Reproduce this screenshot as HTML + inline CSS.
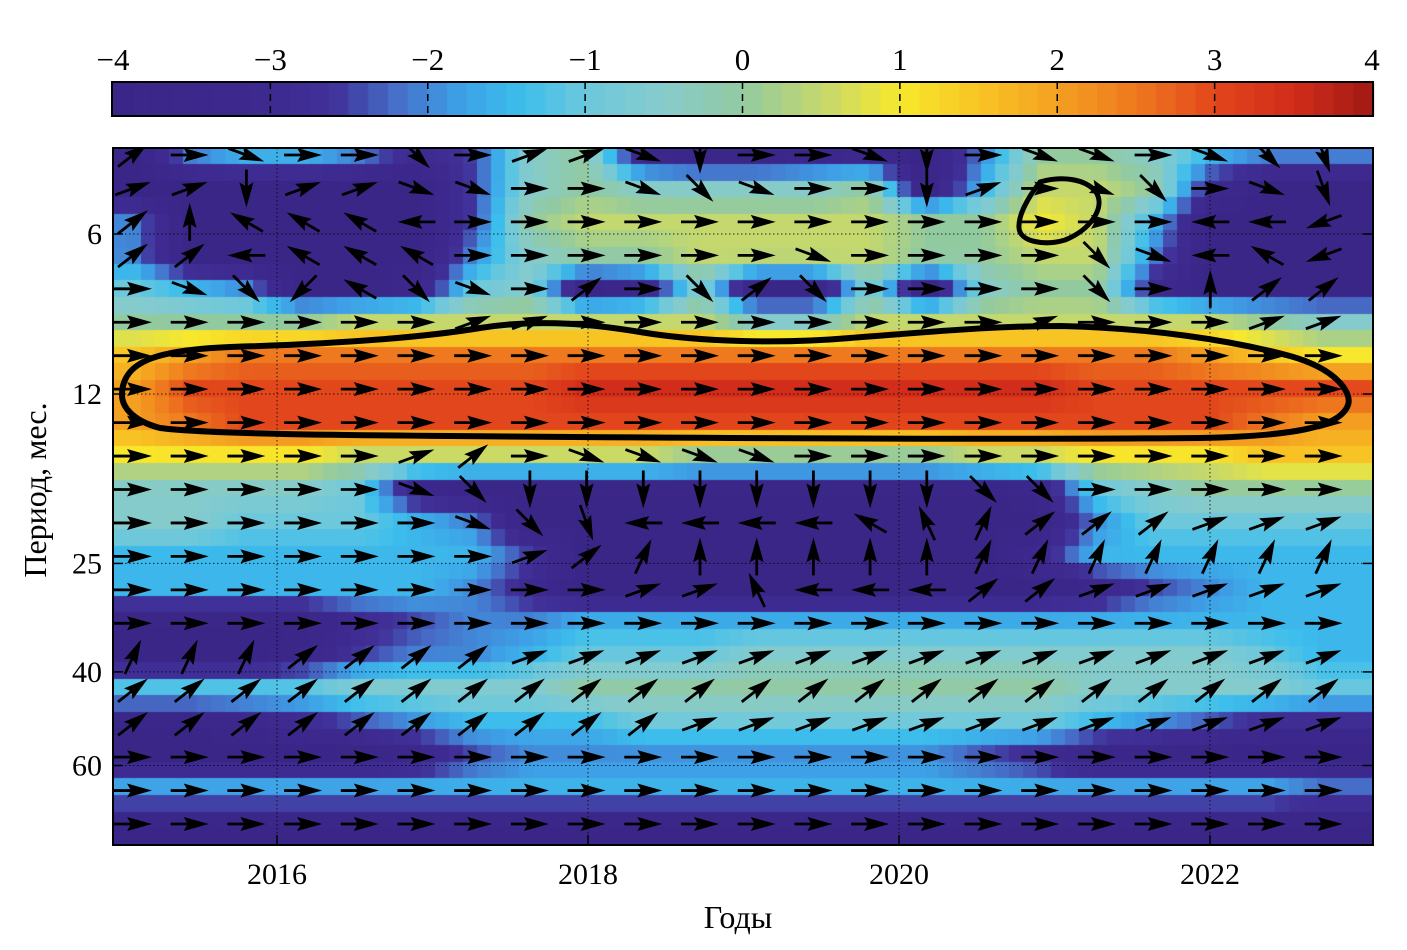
<!DOCTYPE html>
<html><head><meta charset="utf-8">
<style>
body{margin:0;background:#fff;width:1407px;height:950px;overflow:hidden;font-family:"Liberation Serif",serif;}
#wrap{position:relative;width:1407px;height:950px;}
canvas{position:absolute;left:0;top:0;}
svg{position:absolute;left:0;top:0;}
</style></head>
<body>
<div id="wrap">
<canvas id="cv" width="1407" height="950"></canvas>
<svg id="sv" width="1407" height="950"></svg>
</div>
<script>
// ---- data ----
const years = [2016, 2018, 2020, 2022];
const periodTicks = [6, 12, 25, 40, 60];
const cbTicks = ['−4','−3','−2','−1','0','1','2','3','4'];
const levelChars = 'abcdefghijklmnopq'; // a=-4 ... q=4 step 0.5
const heatRows = [
'aeffecdhibaabbaeiihfee',
'aaaaaadhihhhhiafjjicaa',
'eaaaaadijjjjjjiikjfaaa',
'eaaaaaehiijjjjiijjeaaa',
'gfeaabghabhaahahiicaaa',
'iiiijjjjjjjhhjjjjjjjih',
'lmnnnnnnnnnnnnnnnnnmlk',
'mooooooopppppppppooooon',
'mnoooooooooooooooooonm',
'kkkkjjjjjjiiiiijjkkkll',
'hhhhgbaaaaaaaaaabghiii',
'hhgggfeaaaaaaaaaaegggg',
'fffffffdaaaaaaaacfffff',
'ffffffecaaaaaaaaabdeff',
'aaaacdeeffffffffffffff',
'aaabdeefggghhhhhhhhhgf',
'gggghhhhiiiiiiiiihhhhg',
'aabcdefffggggggggfedcc',
'aaaaabdeeeeeeeedcaaaaa',
'fffffffffffffffffffffe',
'aaaaaaaaaaaaaaaaaaaaaa'
];
const arrowRows = [
'ErfrrFreefdrrfdrffrfFs',
'eedeeffrrfFfrrderfFrfs',
'Euwwwlrrrrrrrrrrrrrllx',
'EElwwwrrrrrrfrrrrFflwx',
'rfFXwFfrErFEFrrrrFruEE',
'rrrrrreerrrrrrrrerrree',
'rrrrrrrrrrrrrrrrrrrrrr',
'rrrrrrrrrrrrrrrrrrrrrr',
'rrrrrrrrrrrrrrrrrrrrrr',
'rrrrreErffffrrrrrrrrrr',
'rrrrrfFddddddddFFrrrrr',
'rrrrrrfFsllllwWNEEEeee',
'rrrrrrreENuuuuuNNNNNNN',
'rrrrrrrrreeWlllEEeeeee',
'rrrrrrrrrrrrrrrrrrrrrr',
'NNNEEEEeeeeeeeeeeeeeee',
'EEEEEEEEEEEEEEEEEEEEEE',
'EEEEEEEEEEeeeeeeeeeeee',
'rrrrrrrrrrrrrrrrrrrrrr',
'rrrrrrrrrrrrrrrrrrrrrr',
'rrrrrrrrrrrrrrrrrrrrrr'
];
const dirAngles = {r:0,e:20,E:38,N:65,u:90,W:115,w:150,l:180,x:200,X:225,S:250,d:270,s:290,F:315,f:340};

// ---- geometry ----
const PL=113, PR=1373, PT=148, PB=845;
const x0Year=2016, x0Px=277, pxPerYear=155.5;
const xYear = y => x0Px + (y - x0Year) * pxPerYear;
const yPer = p => 394 + Math.log2(p / 12) * 160;
const colX = i => 133 + i * 56.7;
const rowY = j => 155 + j * 33.45;
const NC = 22, NR = 21;
const val = (j,i) => { const s = heatRows[j]; return -4 + levelChars.indexOf(s[Math.min(i,s.length-1)]) * 0.5; };

const stops = [[-4,[58,38,135]],[-3,[62,42,144]],[-2.6,[64,48,152]],[-2.2,[70,110,200]],[-1.8,[62,160,230]],[-1.4,[60,190,236]],[-1,[108,200,220]],[-0.5,[134,203,204]],[0,[146,202,160]],[0.5,[196,216,110]],[1,[248,232,44]],[1.5,[248,196,36]],[2,[244,160,33]],[2.5,[238,120,30]],[3,[226,70,28]],[3.5,[210,44,26]],[4,[160,26,20]]];
function cmap(v){
  v=Math.max(-4,Math.min(4,v));
  for(let k=0;k<stops.length-1;k++){const [a,ca]=stops[k],[b,cb]=stops[k+1];
    if(v<=b){const t=(v-a)/(b-a);return 'rgb('+ca.map((c,i)=>Math.round(c+(cb[i]-c)*t)).join(',')+')';}}
  return 'rgb(160,26,20)';
}
function interp(x,y){
  let fi=(x-133)/56.7, fj=(y-155)/33.45;
  fi=Math.max(0,Math.min(NC-1,fi)); fj=Math.max(0,Math.min(NR-1,fj));
  const i0=Math.min(NC-2,Math.floor(fi)), j0=Math.min(NR-2,Math.floor(fj));
  const tx=fi-i0, ty=fj-j0;
  return val(j0,i0)*(1-tx)*(1-ty)+val(j0,i0+1)*tx*(1-ty)+val(j0+1,i0)*(1-tx)*ty+val(j0+1,i0+1)*tx*ty;
}
const cv=document.getElementById('cv'), ctx=cv.getContext('2d');
const cw=14, ch=16.6;
for(let y=PT;y<PB;y+=ch){for(let x=PL;x<PR;x+=cw){
  ctx.fillStyle=cmap(interp(x+cw/2,y+ch/2));
  ctx.fillRect(Math.floor(x),Math.floor(y),Math.min(Math.ceil(cw)+1,PR-Math.floor(x)),Math.min(Math.ceil(ch)+1,PB-Math.floor(y)));}}
// colorbar
const CBL=112, CBR=1373, CBT=82, CBB=116, nSeg=64;
for(let k=0;k<nSeg;k++){const v=-4+(k+0.5)*8/nSeg;ctx.fillStyle=cmap(v);
  const xa=CBL+k*(CBR-CBL)/nSeg; ctx.fillRect(xa,CBT,(CBR-CBL)/nSeg+1,CBB-CBT);}

// ---- svg overlay ----
const NS='http://www.w3.org/2000/svg', sv=document.getElementById('sv');
function mk(tag,attrs,parent){const e=document.createElementNS(NS,tag);for(const k in attrs)e.setAttribute(k,attrs[k]);(parent||sv).appendChild(e);return e;}
const defs=mk('defs',{});
const cp=mk('clipPath',{id:'plotclip'},defs);
mk('rect',{x:PL,y:PT,width:PR-PL,height:PB-PT},cp);

// grid lines
years.forEach(yr=>{const x=xYear(yr);
  const g=mk('line',{x1:x,x2:x,y1:PT,y2:PB,stroke:'#000','stroke-width':1,'stroke-dasharray':'1.5 2.5',opacity:0.8});
  
  
  mk('line',{x1:x,x2:x,y1:PB-10,y2:PB,stroke:'#000','stroke-width':1.5});
  const t=mk('text',{x:x,y:884,'font-size':30,'text-anchor':'middle','font-family':'Liberation Serif, serif'});
  t.textContent=yr;
  
  
});
periodTicks.forEach(p=>{const y=yPer(p);
  const g=mk('line',{x1:PL,x2:PR,y1:y,y2:y,stroke:'#000','stroke-width':1,'stroke-dasharray':'1.5 2.5',opacity:0.8});
  
  
  mk('line',{x1:PL,x2:PL+10,y1:y,y2:y,stroke:'#000','stroke-width':1.5});
  mk('line',{x1:PR-10,x2:PR,y1:y,y2:y,stroke:'#000','stroke-width':1.5});
  const t=mk('text',{x:102,y:y+10,'font-size':30,'text-anchor':'end','font-family':'Liberation Serif, serif'});
  t.textContent=p;
  
  
});

// arrows
const ag=mk('g',{'clip-path':'url(#plotclip)'});
for(let j=0;j<NR;j++){const s=arrowRows[j];
  for(let i=0;i<NC;i++){const a=dirAngles[s[i]]||0;const cx=colX(i),cy=rowY(j);
    const g=mk('g',{transform:`translate(${cx},${cy}) rotate(${-a})`},ag);
    
    
    mk('line',{x1:-19,y1:0,x2:2,y2:0,stroke:'#000','stroke-width':2.8},g);
    mk('polygon',{points:'-6,-7 19,0 -6,7 -2,0',fill:'#000'},g);
  }}

// contours
const c1=mk('path',{d:'M122,395 C122,360 160,350 230,347 C330,344 420,338 480,328 C530,320 580,322 640,332 C700,342 780,344 850,338 C930,332 990,326 1060,326 C1150,328 1230,340 1290,356 C1340,370 1352,395 1348,405 C1340,428 1290,436 1200,438 C1000,440 700,438 450,436 C300,435 200,433 160,428 C130,420 122,405 122,395 Z',fill:'none',stroke:'#000','stroke-width':6});


const c2=mk('path',{d:'M1040,182 C1060,176 1085,178 1096,192 C1106,208 1090,230 1065,240 C1045,246 1020,242 1019,228 C1018,214 1030,195 1040,182 Z',fill:'none',stroke:'#000','stroke-width':5});



// frames
const fr=mk('rect',{x:PL,y:PT,width:PR-PL,height:PB-PT,fill:'none',stroke:'#000','stroke-width':2});


const cbf=mk('rect',{x:CBL,y:CBT,width:CBR-CBL,height:CBB-CBT,fill:'none',stroke:'#000','stroke-width':2});


cbTicks.forEach((lab,k)=>{const x=CBL+1+k*(CBR-CBL-2)/8;
  if(k>0&&k<8) mk('line',{x1:x,x2:x,y1:CBT,y2:CBB,stroke:'#000','stroke-width':1.5,'stroke-dasharray':'7 5'});
  const t=mk('text',{x:x,y:70,'font-size':31,'text-anchor':'middle','font-family':'Liberation Serif, serif'});
  t.textContent=lab;
  
  
});
const xt=mk('text',{x:738,y:928,'font-size':32,'text-anchor':'middle','font-family':'Liberation Serif, serif'});
xt.textContent='Годы';


const yt=mk('text',{x:0,y:0,'font-size':32,'text-anchor':'middle','font-family':'Liberation Serif, serif',transform:'translate(46,490) rotate(-90)'});
yt.textContent='Период, мес.';


</script>
</body></html>
